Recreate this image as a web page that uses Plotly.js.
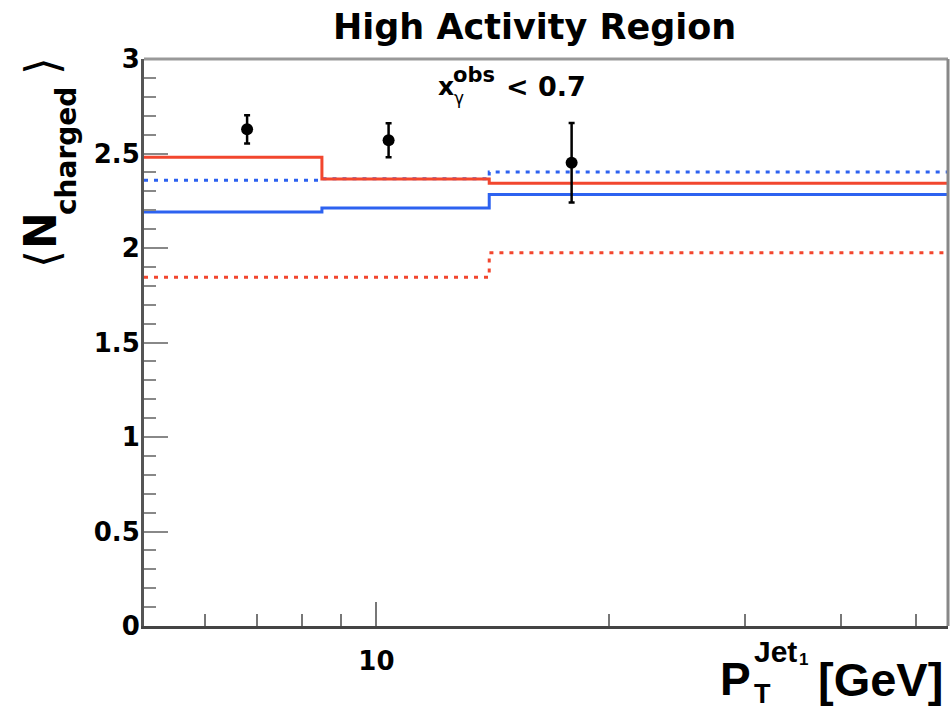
<!DOCTYPE html>
<html>
<head>
<meta charset="utf-8">
<script src="https://cdn.plot.ly/plotly-3.0.1.min.js"></script>
<style>html,body{margin:0;padding:0;background:#fff;}#chart{width:950px;height:706px;}</style>
</head>
<body>
<div id="chart"></div>
<script>
// ---- data ----
const binEdges   = [5, 8.5, 14, 55];
const redSolid   = [2.48, 2.365, 2.343];
const redDotted  = [1.845, 1.845, 1.975];
const blueSolid  = [2.19, 2.212, 2.283];
const blueDotted = [2.358, 2.366, 2.402];

const dataX   = [6.8, 10.37, 17.9];
const dataY   = [2.628, 2.570, 2.451];
const dataErr = [0.075, 0.09, 0.21];

const yTickVals = [0, 0.5, 1, 1.5, 2, 2.5, 3];
const yTickText = ["0", "0.5", "1", "1.5", "2", "2.5", "3"];
const xTickVals = [10];
const xTickText = ["10"];
const xMinorVals = [6, 7, 8, 9, 20, 30, 40, 50];

// ---- layout helpers ----
const L = 144, R = 948.5, T = 59, B = 626;
const W = R - L, H = B - T;
const px = x => (x - L) / W;
const py = y => (B - y) / H;

const RED = '#f2462e', BLUE = '#2d62f0';
const FB = 'DejaVu Sans';

function step(vals) { return vals.concat([vals[vals.length - 1]]); }

function histTrace(vals, color, dash) {
  return {
    x: binEdges, y: step(vals), mode: 'lines', type: 'scatter',
    line: {shape: 'hv', color: color, width: 3, dash: dash},
    hoverinfo: 'skip'
  };
}

const traces = [
  histTrace(redDotted, RED, '4px,6px'),
  histTrace(blueDotted, BLUE, '4px,6px'),
  histTrace(blueSolid, BLUE, 'solid'),
  histTrace(redSolid, RED, 'solid'),
  {
    x: dataX, y: dataY, type: 'scatter', mode: 'markers',
    marker: {color: '#000', size: 12, symbol: 'circle'},
    error_y: {type: 'data', array: dataErr, visible: true, color: '#000', thickness: 2.5, width: 3}
  }
];

function ann(text, x, y, size, opts) {
  return Object.assign({
    text: text, xref: 'paper', yref: 'paper', x: px(x), y: py(y),
    xanchor: 'left', yanchor: 'middle', showarrow: false,
    font: {family: FB, size: size, color: '#000', weight: 'bold'}
  }, opts || {});
}

const annotations = [
  // title
  ann('High Activity Region', 535, 27.5, 35, {xanchor: 'center'}),
  // subtitle x_gamma^obs < 0.7
  ann('x', 436, 86, 25),
  ann('obs', 451, 75, 21),
  ann('γ', 452, 98, 17, {font: {family: FB, size: 17, color: '#000'}}),
  ann('< 0.7', 504, 86, 27),
  // y title
  ann('⟨', 42, 259, 46, {xanchor: 'center', textangle: -90, font: {family: FB, size: 46, color: '#000'}}),
  ann('N', 40, 231, 44, {xanchor: 'center', textangle: -90}),
  ann('charged', 66, 151, 28, {xanchor: 'center', textangle: -90}),
  ann('⟩', 42, 66, 46, {xanchor: 'center', textangle: -90, font: {family: FB, size: 46, color: '#000'}}),
  // x title
  ann('P', 718, 679, 46, {font: {family: 'Liberation Sans', size: 46, color: '#000', weight: 'bold'}}),
  ann('Jet', 752, 651, 30, {font: {family: 'Liberation Sans', size: 30, color: '#000', weight: 'bold'}}),
  ann('1', 797, 660, 17, {font: {family: 'Liberation Sans', size: 17, color: '#000', weight: 'bold'}}),
  ann('T', 752, 694, 27, {font: {family: 'Liberation Sans', size: 27, color: '#000', weight: 'bold'}}),
  ann('[GeV]', 816, 679, 47, {font: {family: 'Liberation Sans', size: 47, color: '#000', weight: 'bold'}})
];

const layout = {
  width: 950, height: 706,
  margin: {l: L, r: 950 - R, t: T, b: 706 - B, pad: 0},
  paper_bgcolor: '#fff', plot_bgcolor: '#fff',
  showlegend: false,
  xaxis: {
    type: 'log', range: [Math.log10(5), Math.log10(55)], autorange: false,
    tickmode: 'array', tickvals: xTickVals, ticktext: xTickText,
    ticks: 'inside', ticklen: 24, tickwidth: 2, tickcolor: '#777',
    showline: true, linecolor: '#444', linewidth: 3,
    showgrid: false, zeroline: false,
    tickfont: {family: FB, size: 26, color: '#000', weight: 'bold'},
    ticklabelstandoff: 10,
    minor: {tickmode: 'array', tickvals: xMinorVals, ticks: 'inside', ticklen: 12, tickwidth: 2, tickcolor: '#777', showgrid: false}
  },
  yaxis: {
    range: [0, 3], autorange: false,
    tickmode: 'array', tickvals: yTickVals, ticktext: yTickText,
    ticks: 'inside', ticklen: 24, tickwidth: 2, tickcolor: '#888',
    showline: true, linecolor: '#555', linewidth: 3,
    showgrid: false, zeroline: false,
    tickfont: {family: FB, size: 26, color: '#000', weight: 'bold'},
    ticklabelstandoff: -4,
    minor: {dtick: 0.1, ticks: 'inside', ticklen: 12, tickwidth: 2, tickcolor: '#888', showgrid: false}
  },
  shapes: [
    {type: 'line', xref: 'paper', yref: 'paper', x0: 0, x1: 1, y0: 1, y1: 1, line: {color: '#999', width: 3}},
    {type: 'line', xref: 'paper', yref: 'paper', x0: 1, x1: 1, y0: 0, y1: 1, line: {color: '#888', width: 3}}
  ],
  annotations: annotations
};

Plotly.newPlot('chart', traces, layout, {staticPlot: true, displayModeBar: false});
</script>
</body>
</html>
